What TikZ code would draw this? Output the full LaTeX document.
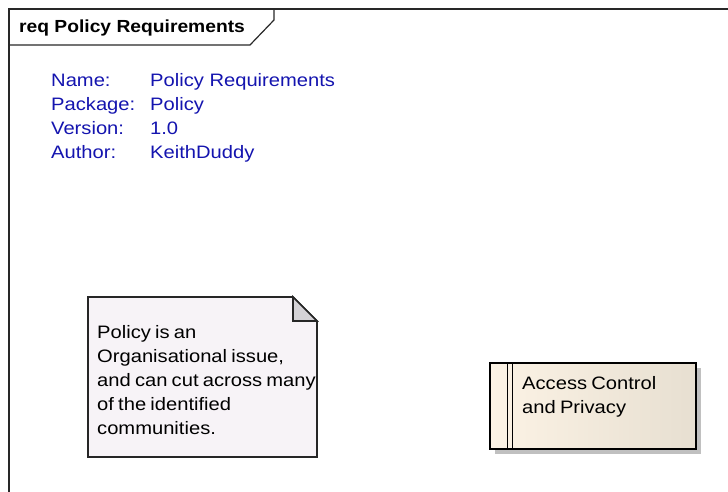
\documentclass[tikz,border=0pt]{standalone}
\usepackage{fontspec}
\setmainfont{Liberation Sans}
\newfontfamily\eafont[FakeStretch=1.1]{Liberation Sans}
\newfontfamily\eabody[FakeStretch=1.12]{Liberation Sans}
\newcommand\eatight{\spaceskip=4.2pt\relax}
\definecolor{eablue}{RGB}{20,20,175}
\definecolor{notefill}{RGB}{247,243,247}
\definecolor{foldfill}{RGB}{212,210,214}
\definecolor{reqleft}{RGB}{252,243,229}
\definecolor{reqright}{RGB}{231,223,209}
\definecolor{shadowgray}{RGB}{192,192,192}
\definecolor{framecol}{RGB}{40,40,40}
\tikzset{
  eatext/.style={inner sep=0pt, anchor=base west, font=\eabody\fontsize{18}{24}\selectfont},
  frameline/.style={draw=framecol, line width=1.2pt},
  notebody/.style={draw=black!85, line width=1.6pt, fill=notefill, line join=miter},
  notefold/.style={draw=black!85, line width=1.6pt, fill=foldfill},
  reqbox/.style={draw=black, line width=1.8pt, left color=reqleft, right color=reqright, inner sep=0pt, anchor=north west, minimum width=206pt, minimum height=86pt},
  reqshadow/.style={fill=shadowgray, draw=none, inner sep=0pt, anchor=north west, minimum width=206pt, minimum height=86pt},
  bar/.style={draw=black, line width=1pt}
}
\begin{document}
\begin{tikzpicture}[x=1pt,y=-1pt]
\useasboundingbox (0,0) rectangle (728,492);
\fill[white] (0,0) rectangle (728,492);
% frame
\coordinate (ftr) at (728,9);
\coordinate (ftl) at (9,9);
\coordinate (fbl) at (9,492);
\draw[frameline] (ftr) -- (ftl) -- (fbl);
\coordinate (tab1) at (9,45);
\coordinate (tab2) at (250,45);
\coordinate (tab3) at (274,20);
\coordinate (tab4) at (274,9);
\draw[frameline] (tab1) -- (tab2) -- (tab3) -- (tab4);
\node[eatext, font=\eafont\bfseries\fontsize{17.5}{24}\selectfont] (title) at (19,33) {req Policy Requirements};
% info
\node[eatext, text=eablue] (info) at (51,87) {\begin{tabular}[t]{@{}p{99pt}@{}l@{}}Name: & Policy Requirements\\ Package: & Policy\\ Version: & 1.0\\ Author: & KeithDuddy\end{tabular}};
% note
\coordinate (n1) at (88,297);
\coordinate (n2) at (293,297);
\coordinate (n3) at (317,321);
\coordinate (n4) at (317,457);
\coordinate (n5) at (88,457);
\coordinate (n6) at (293,321);
\filldraw[notebody] (n1) -- (n2) -- (n3) -- (n4) -- (n5) -- cycle;
\filldraw[notefold] (n2) -- (n6) -- (n3) -- cycle;
\node[eatext] (notetext) at (97,338) {\eatight\begin{tabular}[t]{@{}l@{}}Policy is an\\ Organisational issue,\\ and can cut across many\\ of the identified\\ communities.\end{tabular}};
% requirement
\node[reqshadow] (reqsh) at (495,368) {};
\node[reqbox] (req) at (489,362) {};
\draw[bar] ([xshift=18.5pt]req.north west) -- ([xshift=18.5pt]req.south west);
\draw[bar] ([xshift=23pt]req.north west) -- ([xshift=23pt]req.south west);
\node[eatext] (reqtext) at (522,389.5) {\eatight\begin{tabular}[t]{@{}l@{}}Access Control\\ and Privacy\end{tabular}};
\end{tikzpicture}
\end{document}
